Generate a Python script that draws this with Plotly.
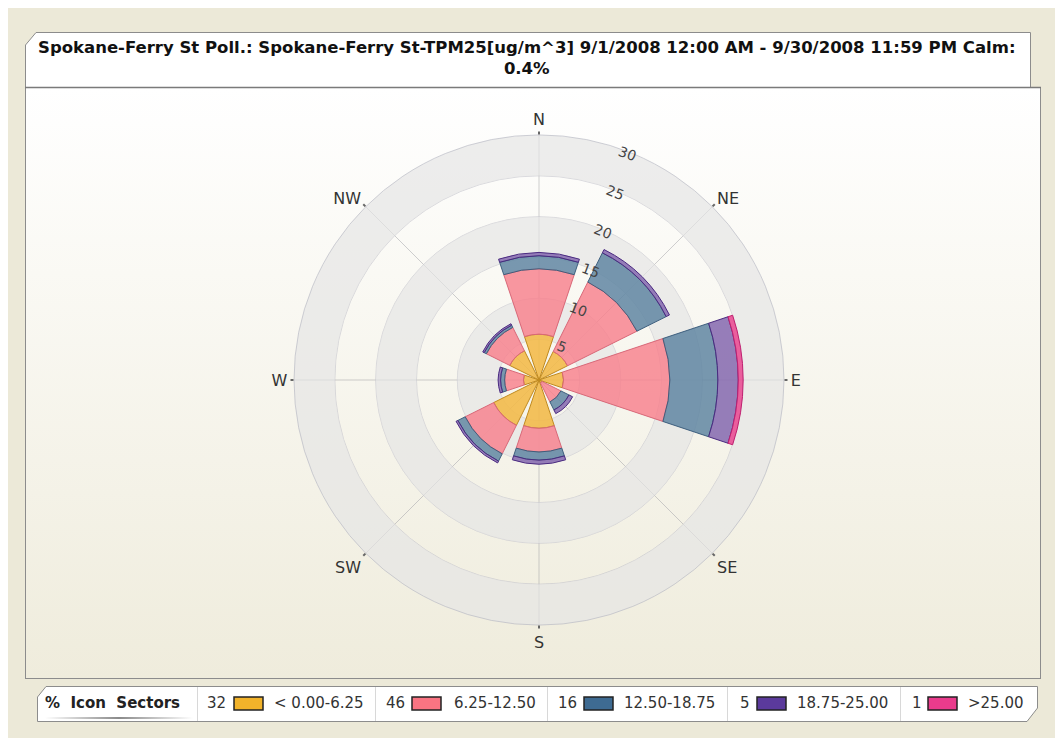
import base64
import numpy as np
import plotly.graph_objects as go

# ---------------- data ----------------
directions = ["N", "NE", "E", "SE", "S", "SW", "W", "NW"]
direction_deg = [0, 45, 90, 135, 180, 225, 270, 315]

bin_labels = ["< 0.00-6.25", "6.25-12.50", "12.50-18.75", "18.75-25.00", ">25.00"]
bin_pct = [32, 46, 16, 5, 1]

seg_0_625 = [5.6, 3.9, 3.0, 0.4, 5.9, 6.2, 1.9, 4.0]
seg_625_1250 = [8.0, 9.5, 13.0, 2.6, 2.9, 3.9, 2.3, 3.2]
seg_1250_1875 = [1.6, 4.0, 5.9, 1.1, 1.0, 1.0, 0.5, 0.3]
seg_1875_25 = [0.4, 0.45, 2.5, 0.5, 0.5, 0.25, 0.3, 0.2]
seg_25_up = [0, 0, 0.6, 0, 0, 0, 0, 0]

radial_ticks = [5, 10, 15, 20, 25, 30]

title_line1 = "Spokane-Ferry St Poll.: Spokane-Ferry St-TPM25[ug/m^3] 9/1/2008 12:00 AM - 9/30/2008 11:59 PM Calm:"
title_line2 = "0.4%"

# ---------------- styles ----------------
fill_colors = ["rgba(242,186,72,0.88)", "rgba(248,128,140,0.82)", "rgba(96,134,162,0.85)",
               "rgba(136,108,176,0.88)", "rgba(232,80,150,0.92)"]
line_colors = ["#c08a20", "#d86878", "#3e5f7e", "#4a2a80", "#c01f70"]
swatch_colors = ["#f2b32a", "#fa7482", "#3e6b92", "#5b3a9c", "#ea3b8c"]

W, H = 1063, 738
OFF = 8  # the page body margin shifts the figure by 8 px
CX, CY, R = 539, 380, 245

def px(x):
    return (x - OFF) / W

def py(y):
    return 1 - (y - OFF) / H

def sv(v):
    return v - OFF

fig = go.Figure()

# alternating background bands of the polar grid
band_outer = radial_ticks
band_fill = ["rgba(0,0,0,0)" if i % 2 == 0 else "rgba(228,228,228,0.68)" for i in range(len(band_outer))]
fig.add_trace(go.Barpolar(
    r=[5] * len(band_outer), base=[b - 5 for b in band_outer], theta=[0] * len(band_outer),
    width=[359.999] * len(band_outer), marker=dict(color=band_fill, line=dict(width=0)),
    hoverinfo="skip", showlegend=False))

segments = [seg_0_625, seg_625_1250, seg_1250_1875, seg_1875_25, seg_25_up]
base = np.zeros(len(directions))
for seg, lab, fc, lc in zip(segments, bin_labels, fill_colors, line_colors):
    seg = np.array(seg, dtype=float)
    mask = seg > 0
    fig.add_trace(go.Barpolar(
        r=seg[mask], base=base[mask], theta=np.array(direction_deg)[mask],
        width=37, name=lab,
        marker=dict(color=fc, line=dict(color=lc, width=1)),
        showlegend=False))
    base = base + seg

fig.update_layout(
    width=W, height=H,
    margin=dict(l=0, r=0, t=0, b=0),
    paper_bgcolor="#ece9d8",
    plot_bgcolor="rgba(0,0,0,0)",
    showlegend=False,
    polar=dict(
        domain=dict(x=[px(CX - R), px(CX + R)], y=[py(CY + R), py(CY - R)]),
        bgcolor="rgba(0,0,0,0)",
        barmode="overlay",
        radialaxis=dict(range=[0, 30], tickvals=radial_ticks, showline=False,
                        angle=72.5, tickangle=93, ticks="",
                        gridcolor="rgba(185,186,196,0.55)", gridwidth=1,
                        tickfont=dict(family="DejaVu Sans", size=14, color="#444"),
                        layer="above traces"),
        angularaxis=dict(rotation=90, direction="clockwise",
                         tickvals=direction_deg, ticktext=directions,
                         ticks="outside", ticklen=3, tickwidth=2, tickcolor="#666",
                         linecolor="rgba(185,186,196,0.7)", gridcolor="rgba(160,160,165,0.5)",
                         tickfont=dict(family="DejaVu Sans", size=16, color="#333"),
                         layer="above traces"),
    ),
)

# ---------------- frame drawn as an SVG background ----------------
svg = f'''<svg xmlns="http://www.w3.org/2000/svg" width="{W}" height="{H}" viewBox="0 0 {W} {H}">
<defs>
<linearGradient id="pg" x1="0" y1="0" x2="0" y2="1">
<stop offset="0" stop-color="#ffffff"/><stop offset="1" stop-color="#efecdc"/></linearGradient>
<linearGradient id="ul" x1="0" y1="0" x2="1" y2="0">
<stop offset="0" stop-color="#ffffff"/><stop offset="0.5" stop-color="#8a8a8a"/><stop offset="1" stop-color="#ffffff"/></linearGradient>
</defs>
<rect x="{sv(25.5)}" y="{sv(87.5)}" width="1015" height="591" fill="url(#pg)" stroke="#8c8c8c" stroke-width="1"/>
<path d="M{sv(25.5)},{sv(45)} L{sv(36)},{sv(32.5)} L{sv(1030.5)},{sv(32.5)} L{sv(1030.5)},{sv(87.5)} L{sv(25.5)},{sv(87.5)} Z" fill="#ffffff" stroke="#8c8c8c" stroke-width="1"/>
<line x1="{sv(25)}" y1="{sv(87.5)}" x2="{sv(1041)}" y2="{sv(87.5)}" stroke="#7a7a7a" stroke-width="1.5"/>
<path d="M{sv(37.5)},{sv(697)} L{sv(46)},{sv(686.5)} L{sv(1037.5)},{sv(686.5)} L{sv(1037.5)},{sv(708)} L{sv(1027)},{sv(721.5)} L{sv(37.5)},{sv(721.5)} Z" fill="#ffffff" stroke="#8c8c8c" stroke-width="1"/>
<rect x="{sv(45)}" y="{sv(717)}" width="148" height="2" fill="url(#ul)"/>
'''
for xd in [197.5, 375.5, 547.5, 727.5, 900.5]:
    svg += f'<line x1="{sv(xd)}" y1="{sv(687)}" x2="{sv(xd)}" y2="{sv(721)}" stroke="#d8d8d8" stroke-width="1"/>\n'
svg += '</svg>'
uri = "data:image/svg+xml;base64," + base64.b64encode(svg.encode()).decode()
fig.add_layout_image(dict(source=uri, xref="paper", yref="paper", x=0, y=1, sizex=1, sizey=1,
                          xanchor="left", yanchor="top", sizing="stretch", layer="below"))

# ---------------- title ----------------
fig.add_annotation(x=px(527), y=py(58), xref="paper", yref="paper", xanchor="center", yanchor="middle",
                   text=f"<b>{title_line1}</b><br><b>{title_line2}</b>", showarrow=False,
                   align="center", font=dict(family="DejaVu Sans", size=16.5, color="#111"))

# ---------------- custom legend ----------------
fig.add_annotation(x=px(43), y=py(703), xref="paper", yref="paper", xanchor="left", yanchor="middle",
                   text="<b>%  Icon  Sectors</b>", showarrow=False,
                   font=dict(family="DejaVu Sans", size=15, color="#222"))
pct_x = [205, 384, 556, 738, 910]
sw_x = [234, 412, 584, 757, 928]
lab_x = [272, 452, 622, 795, 966]
for i in range(len(bin_labels)):
    fig.add_annotation(x=px(pct_x[i]), y=py(703), xref="paper", yref="paper", xanchor="left",
                       yanchor="middle", text=str(bin_pct[i]), showarrow=False,
                       font=dict(family="DejaVu Sans", size=15, color="#333"))
    fig.add_shape(type="rect", xref="paper", yref="paper",
                  x0=px(sw_x[i]), x1=px(sw_x[i] + 29), y0=py(710), y1=py(697),
                  fillcolor=swatch_colors[i], line=dict(color="#222", width=1.5))
    fig.add_annotation(x=px(lab_x[i]), y=py(703), xref="paper", yref="paper", xanchor="left",
                       yanchor="middle", text=bin_labels[i], showarrow=False,
                       font=dict(family="DejaVu Sans", size=15, color="#333"))

fig.write_html("out.html")
